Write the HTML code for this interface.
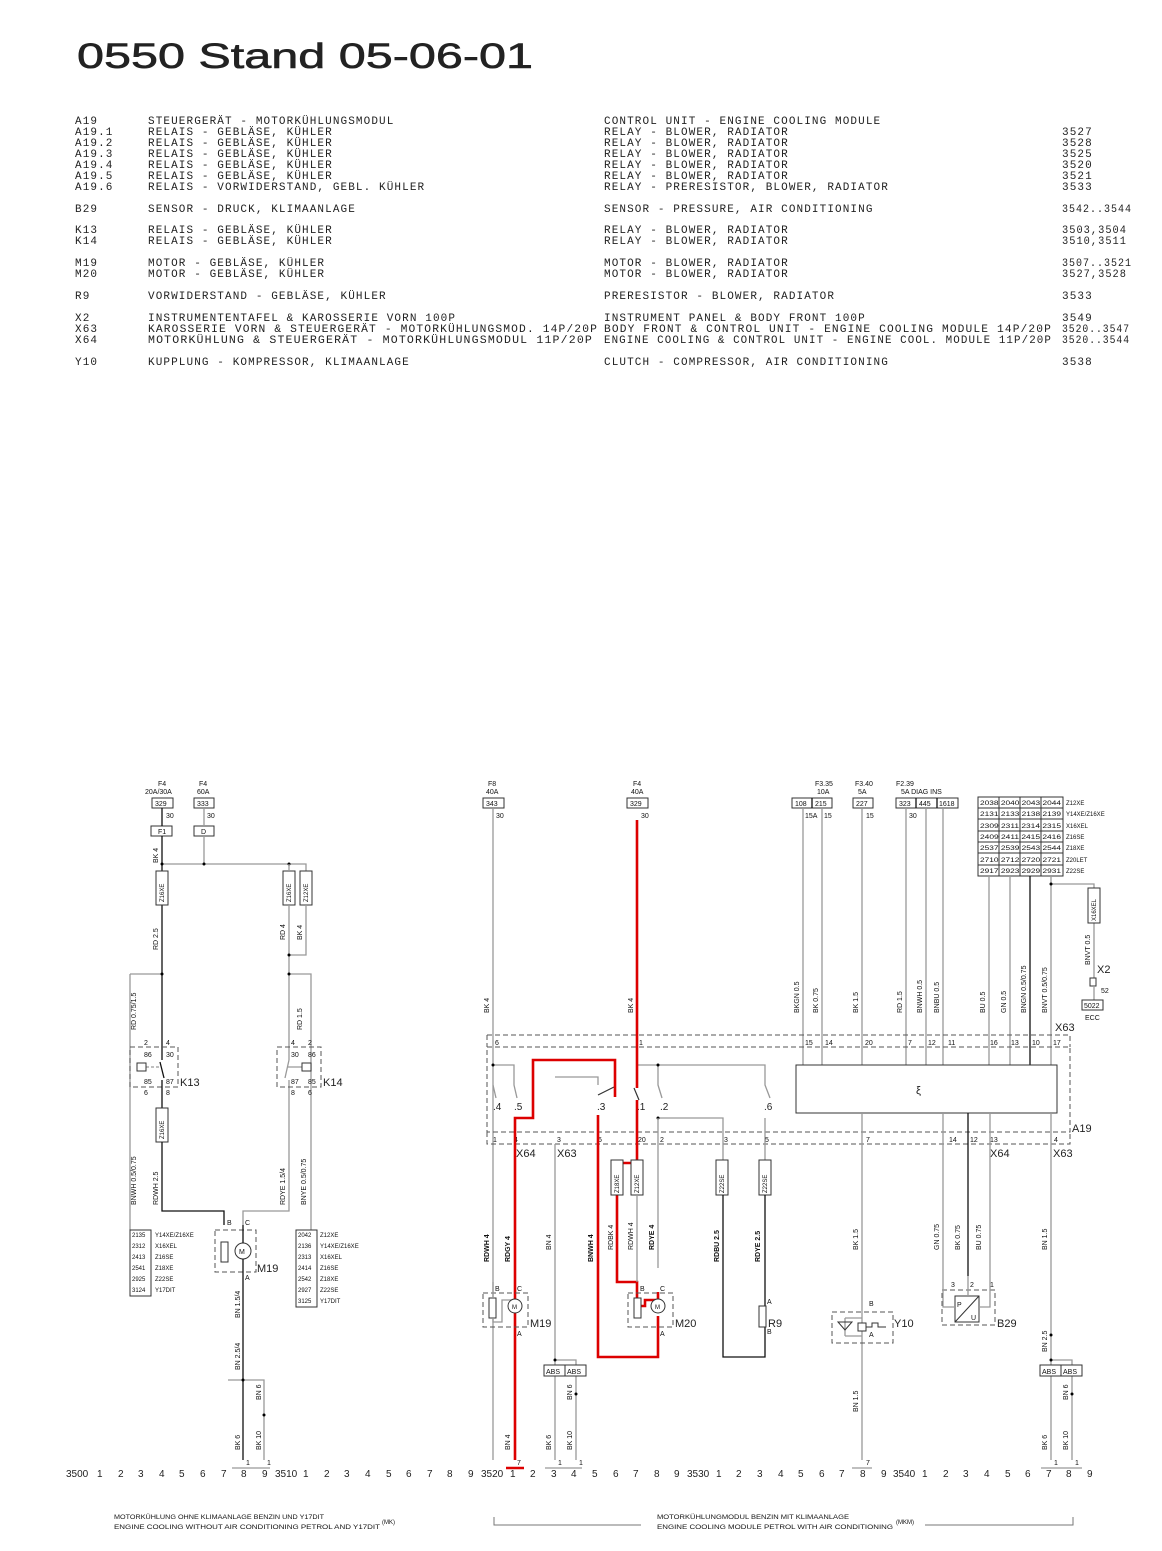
<!DOCTYPE html>
<html><head><meta charset="utf-8"><style>
html,body{margin:0;padding:0;background:#fff}
svg{display:block}
.t{font-family:"Liberation Mono",monospace;font-size:11px;letter-spacing:1.1px;fill:#222}
.s{font-family:"Liberation Sans",sans-serif;font-size:7px;fill:#111}
.m{font-family:"Liberation Sans",sans-serif;font-size:11px;fill:#222}
.n{font-family:"Liberation Sans",sans-serif;font-size:10px;fill:#222}
.f{font-family:"Liberation Sans",sans-serif;font-size:6px;fill:#111}
.g{stroke:#999;stroke-width:1.3;fill:none}
.k{stroke:#111;stroke-width:1.3;fill:none}
.r{stroke:#d00;stroke-width:2.6;fill:none}
.d{stroke:#555;stroke-width:1;fill:none;stroke-dasharray:5 3}
.b{stroke:#333;stroke-width:1;fill:#fff}
</style></head><body>
<svg width="1162" height="1551" viewBox="0 0 1162 1551" xmlns="http://www.w3.org/2000/svg">
<text x="77" y="68" font-family="Liberation Sans,sans-serif" font-size="35" fill="#222" stroke="#222" stroke-width="0.6" textLength="456" lengthAdjust="spacingAndGlyphs">0550 Stand 05-06-01</text>

<g class="t">
<text x="75" y="124">A19</text><text x="148" y="124">STEUERGERÄT - MOTORKÜHLUNGSMODUL</text><text x="604" y="124">CONTROL UNIT - ENGINE COOLING MODULE</text>
<text x="75" y="135">A19.1</text><text x="148" y="135">RELAIS - GEBLÄSE, KÜHLER</text><text x="604" y="135">RELAY - BLOWER, RADIATOR</text><text x="1062" y="135">3527</text>
<text x="75" y="146">A19.2</text><text x="148" y="146">RELAIS - GEBLÄSE, KÜHLER</text><text x="604" y="146">RELAY - BLOWER, RADIATOR</text><text x="1062" y="146">3528</text>
<text x="75" y="157">A19.3</text><text x="148" y="157">RELAIS - GEBLÄSE, KÜHLER</text><text x="604" y="157">RELAY - BLOWER, RADIATOR</text><text x="1062" y="157">3525</text>
<text x="75" y="168">A19.4</text><text x="148" y="168">RELAIS - GEBLÄSE, KÜHLER</text><text x="604" y="168">RELAY - BLOWER, RADIATOR</text><text x="1062" y="168">3520</text>
<text x="75" y="179">A19.5</text><text x="148" y="179">RELAIS - GEBLÄSE, KÜHLER</text><text x="604" y="179">RELAY - BLOWER, RADIATOR</text><text x="1062" y="179">3521</text>
<text x="75" y="190">A19.6</text><text x="148" y="190">RELAIS - VORWIDERSTAND, GEBL. KÜHLER</text><text x="604" y="190">RELAY - PRERESISTOR, BLOWER, RADIATOR</text><text x="1062" y="190">3533</text>
<text x="75" y="212">B29</text><text x="148" y="212">SENSOR - DRUCK, KLIMAANLAGE</text><text x="604" y="212">SENSOR - PRESSURE, AIR CONDITIONING</text><text x="1062" y="212" textLength="70" lengthAdjust="spacingAndGlyphs">3542..3544</text>
<text x="75" y="233">K13</text><text x="148" y="233">RELAIS - GEBLÄSE, KÜHLER</text><text x="604" y="233">RELAY - BLOWER, RADIATOR</text><text x="1062" y="233" textLength="65" lengthAdjust="spacingAndGlyphs">3503,3504</text>
<text x="75" y="244">K14</text><text x="148" y="244">RELAIS - GEBLÄSE, KÜHLER</text><text x="604" y="244">RELAY - BLOWER, RADIATOR</text><text x="1062" y="244" textLength="65" lengthAdjust="spacingAndGlyphs">3510,3511</text>
<text x="75" y="266">M19</text><text x="148" y="266">MOTOR - GEBLÄSE, KÜHLER</text><text x="604" y="266">MOTOR - BLOWER, RADIATOR</text><text x="1062" y="266" textLength="70" lengthAdjust="spacingAndGlyphs">3507..3521</text>
<text x="75" y="277">M20</text><text x="148" y="277">MOTOR - GEBLÄSE, KÜHLER</text><text x="604" y="277">MOTOR - BLOWER, RADIATOR</text><text x="1062" y="277" textLength="65" lengthAdjust="spacingAndGlyphs">3527,3528</text>
<text x="75" y="299">R9</text><text x="148" y="299">VORWIDERSTAND - GEBLÄSE, KÜHLER</text><text x="604" y="299">PRERESISTOR - BLOWER, RADIATOR</text><text x="1062" y="299">3533</text>
<text x="75" y="321">X2</text><text x="148" y="321">INSTRUMENTENTAFEL &amp; KAROSSERIE VORN 100P</text><text x="604" y="321">INSTRUMENT PANEL &amp; BODY FRONT 100P</text><text x="1062" y="321">3549</text>
<text x="75" y="332">X63</text><text x="148" y="332" textLength="450" lengthAdjust="spacingAndGlyphs">KAROSSERIE VORN &amp; STEUERGERÄT - MOTORKÜHLUNGSMOD. 14P/20P</text><text x="604" y="332" textLength="448" lengthAdjust="spacingAndGlyphs">BODY FRONT &amp; CONTROL UNIT - ENGINE COOLING MODULE 14P/20P</text><text x="1062" y="332" textLength="68" lengthAdjust="spacingAndGlyphs">3520..3547</text>
<text x="75" y="343">X64</text><text x="148" y="343" textLength="445" lengthAdjust="spacingAndGlyphs">MOTORKÜHLUNG &amp; STEUERGERÄT - MOTORKÜHLUNGSMODUL 11P/20P</text><text x="604" y="343" textLength="448" lengthAdjust="spacingAndGlyphs">ENGINE COOLING &amp; CONTROL UNIT - ENGINE COOL. MODULE 11P/20P</text><text x="1062" y="343" textLength="68" lengthAdjust="spacingAndGlyphs">3520..3544</text>
<text x="75" y="365">Y10</text><text x="148" y="365">KUPPLUNG - KOMPRESSOR, KLIMAANLAGE</text><text x="604" y="365">CLUTCH - COMPRESSOR, AIR CONDITIONING</text><text x="1062" y="365">3538</text>
</g>

<!-- ================= LEFT SECTION ================= -->
<g class="s">
<text x="158" y="786">F4</text><text x="145" y="794">20A/30A</text>
<text x="199" y="786">F4</text><text x="197" y="794">60A</text>
<text x="166" y="818">30</text><text x="207" y="818">30</text>
</g>
<rect x="152" y="798" width="21" height="10" class="b"/><text x="155" y="806" class="s">329</text>
<rect x="194" y="798" width="20" height="10" class="b"/><text x="197" y="806" class="s">333</text>
<rect x="151" y="826" width="21" height="10" class="b"/><text x="158" y="834" class="s">F1</text>
<rect x="194" y="826" width="20" height="10" class="b"/><text x="201" y="834" class="s">D</text>
<path class="k" d="M162 808V826M162 836V871"/>
<path class="g" d="M204 808V826M204 836V864M162 864H306V871"/>
<path class="k" d="M162 905V1060"/>
<circle cx="162" cy="864" r="1.5"/><circle cx="204" cy="864" r="1.5"/><circle cx="289" cy="864" r="1.5"/>
<rect x="156" y="871" width="12" height="34" class="b"/><text transform="translate(164,902) rotate(-90)" class="f">Z16XE</text>
<rect x="283" y="871" width="12" height="34" class="b"/><text transform="translate(291,902) rotate(-90)" class="f">Z16XE</text>
<rect x="300" y="871" width="12" height="34" class="b"/><text transform="translate(308,902) rotate(-90)" class="f">Z12XE</text>
<path class="g" d="M289 864V871M289 905V1060M289 1080V1211H243V1225M306 905V955H289"/>
<circle cx="289" cy="955" r="1.5"/>
<path class="g" d="M130 974H162M289 974H311V1230M130 974V1230"/>
<circle cx="162" cy="974" r="1.5"/><circle cx="289" cy="974" r="1.5"/>
<!-- K13 -->
<rect x="130" y="1047" width="48" height="40" class="d"/>
<path class="k" d="M160 1062L164 1078M162 1080V1108"/>
<path class="g" d="M141 1067H160" stroke-dasharray="3 2"/>
<rect x="137" y="1063" width="9" height="8" class="b"/>
<g class="s"><text x="144" y="1045">2</text><text x="166" y="1045">4</text><text x="144" y="1057">86</text><text x="166" y="1057">30</text><text x="144" y="1084">85</text><text x="166" y="1084">87</text><text x="144" y="1095">6</text><text x="166" y="1095">8</text></g>
<text x="180" y="1086" class="m">K13</text>
<!-- K14 -->
<rect x="277" y="1047" width="44" height="40" class="d"/>
<path class="g" d="M289 1060L285 1078M287 1067H306"/>
<rect x="302" y="1063" width="9" height="8" class="b"/>
<g class="s"><text x="291" y="1045">4</text><text x="308" y="1045">2</text><text x="291" y="1057">30</text><text x="308" y="1057">86</text><text x="291" y="1084">87</text><text x="308" y="1084">85</text><text x="291" y="1095">8</text><text x="308" y="1095">6</text></g>
<text x="323" y="1086" class="m">K14</text>
<rect x="156" y="1108" width="12" height="34" class="b"/><text transform="translate(164,1139) rotate(-90)" class="f">Z16XE</text>
<path class="k" d="M162 1142V1211H224V1225"/>
<!-- M19 left -->
<rect x="215" y="1230" width="41" height="42" class="d"/>
<rect x="221" y="1242" width="7" height="20" class="b"/>
<circle cx="243" cy="1251" r="8" class="b"/><text x="239" y="1254" class="s">M</text>
<path class="k" d="M243 1225V1243M243 1259V1460"/>
<g class="s"><text x="227" y="1225">B</text><text x="245" y="1225">C</text><text x="245" y="1280">A</text></g>
<text x="257" y="1272" class="m">M19</text>
<g class="f">
<rect x="130" y="1230" width="21" height="66" class="b"/>
<text x="132" y="1237">2135</text><text x="155" y="1237">Y14XE/Z16XE</text>
<text x="132" y="1248">2312</text><text x="155" y="1248">X16XEL</text>
<text x="132" y="1259">2413</text><text x="155" y="1259">Z16SE</text>
<text x="132" y="1270">2541</text><text x="155" y="1270">Z18XE</text>
<text x="132" y="1281">2925</text><text x="155" y="1281">Z22SE</text>
<text x="132" y="1292">3124</text><text x="155" y="1292">Y17DIT</text>
<rect x="296" y="1230" width="21" height="77" class="b"/>
<text x="298" y="1237">2042</text><text x="320" y="1237">Z12XE</text>
<text x="298" y="1248">2136</text><text x="320" y="1248">Y14XE/Z16XE</text>
<text x="298" y="1259">2313</text><text x="320" y="1259">X16XEL</text>
<text x="298" y="1270">2414</text><text x="320" y="1270">Z16SE</text>
<text x="298" y="1281">2542</text><text x="320" y="1281">Z18XE</text>
<text x="298" y="1292">2927</text><text x="320" y="1292">Z22SE</text>
<text x="298" y="1303">3125</text><text x="320" y="1303">Y17DIT</text>
</g>
<path class="g" d="M228 1380H264V1460"/><circle cx="243" cy="1380" r="1.5"/><circle cx="264" cy="1415" r="1.5"/>
<path class="g" d="M232 1468H270"/>
<g class="s">
<text transform="translate(158,863) rotate(-90)">BK 4</text>
<text transform="translate(158,950) rotate(-90)">RD 2.5</text>
<text transform="translate(285,940) rotate(-90)">RD 4</text>
<text transform="translate(302,940) rotate(-90)">BK 4</text>
<text transform="translate(136,1030) rotate(-90)">RD 0.75/1.5</text>
<text transform="translate(302,1030) rotate(-90)">RD 1.5</text>
<text transform="translate(136,1205) rotate(-90)">BNWH 0.5/0.75</text>
<text transform="translate(158,1205) rotate(-90)">RDWH 2.5</text>
<text transform="translate(285,1205) rotate(-90)">RDYE 1.5/4</text>
<text transform="translate(306,1205) rotate(-90)">BNYE 0.5/0.75</text>
<text transform="translate(240,1318) rotate(-90)">BN 1.5/4</text>
<text transform="translate(240,1370) rotate(-90)">BN 2.5/4</text>
<text transform="translate(261,1400) rotate(-90)">BN 6</text>
<text transform="translate(240,1450) rotate(-90)">BK 6</text>
<text transform="translate(261,1450) rotate(-90)">BK 10</text>
<text x="246" y="1465">1</text><text x="267" y="1465">1</text>
</g>

<!-- ================= RIGHT SECTION ================= -->
<g class="s">
<text x="488" y="786">F8</text><text x="486" y="794">40A</text>
<text x="633" y="786">F4</text><text x="631" y="794">40A</text>
<text x="496" y="818">30</text><text x="641" y="818">30</text>
<text x="815" y="786">F3.35</text><text x="817" y="794">10A</text>
<text x="855" y="786">F3.40</text><text x="858" y="794">5A</text>
<text x="896" y="786">F2.39</text><text x="901" y="794">5A  DIAG  INS</text>
<text x="805" y="818">15A</text><text x="824" y="818">15</text><text x="866" y="818">15</text><text x="909" y="818">30</text>
</g>
<rect x="483" y="798" width="21" height="10" class="b"/><text x="486" y="806" class="s">343</text>
<rect x="627" y="798" width="21" height="10" class="b"/><text x="630" y="806" class="s">329</text>
<rect x="792" y="798" width="40" height="10" class="b"/><path class="k" d="M812 798V808" stroke-width="1"/><text x="795" y="806" class="s">108</text><text x="815" y="806" class="s">215</text>
<rect x="853" y="798" width="20" height="10" class="b"/><text x="856" y="806" class="s">227</text>
<rect x="896" y="798" width="62" height="10" class="b"/><path class="k" d="M916 798V808M937 798V808" stroke-width="1"/><text x="899" y="806" class="s">323</text><text x="919" y="806" class="s">445</text><text x="939" y="806" class="s">1618</text>
<!-- grid -->
<g>
<rect x="978" y="797" width="85" height="79" class="b"/>
<path stroke="#333" stroke-width="1" d="M999 797V876M1020 797V876M1041 797V876M978 808H1063M978 819H1063M978 831H1063M978 842H1063M978 853H1063M978 865H1063"/>
<g class="f">
<text x="980" y="805" textLength="81" lengthAdjust="spacingAndGlyphs">2038 2040 2043 2044</text><text x="1066" y="805">Z12XE</text>
<text x="980" y="816" textLength="81" lengthAdjust="spacingAndGlyphs">2131 2133 2138 2139</text><text x="1066" y="816">Y14XE/Z16XE</text>
<text x="980" y="828" textLength="81" lengthAdjust="spacingAndGlyphs">2309 2311 2314 2315</text><text x="1066" y="828">X16XEL</text>
<text x="980" y="839" textLength="81" lengthAdjust="spacingAndGlyphs">2409 2411 2415 2416</text><text x="1066" y="839">Z16SE</text>
<text x="980" y="850" textLength="81" lengthAdjust="spacingAndGlyphs">2537 2539 2543 2544</text><text x="1066" y="850">Z18XE</text>
<text x="980" y="862" textLength="81" lengthAdjust="spacingAndGlyphs">2710 2712 2720 2721</text><text x="1066" y="862">Z20LET</text>
<text x="980" y="873" textLength="81" lengthAdjust="spacingAndGlyphs">2917 2923 2929 2931</text><text x="1066" y="873">Z22SE</text>
</g></g>
<!-- verticals top -->
<path class="g" d="M493 808V1460M803 808V1065M822 808V1065M862 808V1065M906 808V1065M926 808V1065M943 808V1065M989 876V1065M1010 876V1065M1051 876V1065"/>
<path class="k" d="M1030 876V1065"/>
<path class="g" d="M1051 884H1094V888M1094 923V978"/><circle cx="1051" cy="884" r="1.5"/>
<rect x="1088" y="888" width="12" height="35" class="b"/><text transform="translate(1096,921) rotate(-90)" class="f">X16XEL</text>
<rect x="1090" y="978" width="6" height="8" class="b"/><path class="g" d="M1094 986V1000"/>
<rect x="1082" y="1000" width="21" height="10" class="b"/><text x="1084" y="1008" class="s">5022</text>
<text x="1097" y="973" class="m">X2</text><text x="1101" y="993" class="s">52</text><text x="1085" y="1020" class="s">ECC</text>
<!-- connectors / A19 -->
<path class="d" d="M487 1035H1070V1047M487 1035V1047"/>
<rect x="487" y="1047" width="583" height="85" class="d"/>
<path class="d" d="M487 1132V1144H1070V1132"/>
<text x="1055" y="1031" class="m">X63</text>
<text x="1072" y="1132" class="m">A19</text>
<g class="s">
<text x="495" y="1045">6</text><text x="639" y="1045">1</text><text x="805" y="1045">15</text><text x="825" y="1045">14</text><text x="865" y="1045">20</text><text x="908" y="1045">7</text><text x="928" y="1045">12</text><text x="948" y="1045">11</text><text x="990" y="1045">16</text><text x="1011" y="1045">13</text><text x="1032" y="1045">10</text><text x="1053" y="1045">17</text>
<text x="493" y="1142">1</text><text x="514" y="1142">4</text><text x="557" y="1142">3</text><text x="598" y="1142">6</text><text x="638" y="1142">20</text><text x="660" y="1142">2</text><text x="724" y="1142">3</text><text x="765" y="1142">5</text><text x="866" y="1142">7</text><text x="949" y="1142">14</text><text x="970" y="1142">12</text><text x="990" y="1142">13</text><text x="1054" y="1142">4</text>
</g>
<text x="516" y="1157" class="m">X64</text><text x="557" y="1157" class="m">X63</text><text x="990" y="1157" class="m">X64</text><text x="1053" y="1157" class="m">X63</text>
<!-- control box -->
<rect x="796" y="1065" width="261" height="48" class="b" stroke-width="1.2"/>
<text x="916" y="1094" class="m">ξ</text>
<path class="g" d="M862 1113V1460M943 1113V1276M990 1113V1276M1051 1113V1460"/>
<path class="k" d="M968 1113V1276"/>
<!-- switches -->
<path class="g" d="M493 1065H514V1085L517 1098M493 1085L496 1098M637 1065H765V1085L770 1098M658 1065V1085L662 1098M658 1118H723V1160M765 1118V1160M555 1144V1380M555 1077H598V1085"/>
<circle cx="493" cy="1065" r="1.5"/><circle cx="658" cy="1065" r="1.5"/><circle cx="658" cy="1118" r="1.5"/>
<path class="g" d="M658 1118V1268"/>
<g class="n"><text x="493" y="1110">.4</text><text x="514" y="1110">.5</text><text x="597" y="1110">.3</text><text x="637" y="1110">.1</text><text x="660" y="1110">.2</text><text x="764" y="1110">.6</text></g>
<!-- red path -->
<path class="r" d="M637 820V1088M637 1100V1163H617V1160"/>
<path stroke="#333" stroke-width="1.2" d="M634 1088L639 1100M598 1095L614 1087"/>
<path class="r" d="M515 1460V1118H533V1060H615V1097"/>
<path class="r" d="M598 1115V1357H658V1316"/>
<path class="r" d="M617 1195V1282H637V1306H645V1300H658V1292"/>
<path class="r" d="M506 1468H524"/>
<rect x="611" y="1160" width="12" height="35" class="b"/><text transform="translate(619,1193) rotate(-90)" class="f">Z18XE</text>
<rect x="631" y="1160" width="12" height="35" class="b"/><text transform="translate(639,1193) rotate(-90)" class="f">Z12XE</text>
<path class="g" d="M637 1195V1282"/>
<rect x="716" y="1160" width="12" height="35" class="b"/><text transform="translate(724,1193) rotate(-90)" class="f">Z22SE</text>
<rect x="759" y="1160" width="12" height="35" class="b"/><text transform="translate(767,1193) rotate(-90)" class="f">Z22SE</text>
<path class="k" d="M723 1195V1357H765V1327M765 1195V1306"/>
<!-- M19 right -->
<rect x="483" y="1293" width="45" height="34" class="d"/>
<rect x="489" y="1298" width="7" height="20" class="b"/>
<path class="g" d="M493 1282V1298M493 1318V1322H502V1300H515"/>
<circle cx="515" cy="1306" r="7" class="b"/><text x="512" y="1309" class="f">M</text>
<g class="s"><text x="495" y="1291">B</text><text x="517" y="1291">C</text><text x="517" y="1336">A</text></g>
<text x="530" y="1327" class="m">M19</text>
<!-- M20 -->
<rect x="628" y="1293" width="45" height="34" class="d"/>
<rect x="634" y="1298" width="7" height="20" class="b"/>
<circle cx="658" cy="1306" r="7" class="b"/><text x="655" y="1309" class="f">M</text>
<g class="s"><text x="640" y="1291">B</text><text x="660" y="1291">C</text><text x="660" y="1336">A</text></g>
<text x="675" y="1327" class="m">M20</text>
<!-- R9 -->
<rect x="759" y="1306" width="7" height="21" class="b"/>
<g class="s"><text x="767" y="1304">A</text><text x="767" y="1334">B</text></g>
<text x="768" y="1327" class="m">R9</text>
<!-- Y10 -->
<rect x="832" y="1312" width="61" height="31" class="d"/>
<path class="g" d="M845 1318H862M845 1336H862M845 1318V1336"/><path d="M838 1322H852L845 1330Z" fill="none" stroke="#333"/>
<rect x="858" y="1323" width="8" height="8" class="b"/><path stroke="#333" fill="none" d="M866 1327H872V1323H878V1327H886"/>
<g class="s"><text x="869" y="1306">B</text><text x="869" y="1337">A</text></g>
<text x="894" y="1327" class="m">Y10</text>
<!-- B29 -->
<rect x="942" y="1290" width="53" height="35" class="d"/>
<rect x="955" y="1296" width="24" height="26" class="b"/><path stroke="#333" d="M955 1322L979 1296"/>
<text x="957" y="1307" class="s">P</text><text x="971" y="1320" class="s">U</text>
<path class="g" d="M943 1276V1307H955M990 1276V1307H979M968 1276V1296"/>
<g class="s"><text x="951" y="1287">3</text><text x="970" y="1287">2</text><text x="990" y="1287">1</text></g>
<text x="997" y="1327" class="m">B29</text>
<!-- ABS boxes -->
<path class="g" d="M555 1360H576V1460M555 1380V1460"/>
<rect x="544" y="1365" width="42" height="11" class="b"/><path stroke="#333" d="M565 1365V1376"/><text x="546" y="1374" class="s">ABS</text><text x="567" y="1374" class="s">ABS</text>
<path class="g" d="M1051 1360H1072V1460"/><circle cx="1051" cy="1335" r="1.5"/>
<rect x="1040" y="1365" width="42" height="11" class="b"/><path stroke="#333" d="M1061 1365V1376"/><text x="1042" y="1374" class="s">ABS</text><text x="1063" y="1374" class="s">ABS</text>
<circle cx="555" cy="1360" r="1.5"/><circle cx="576" cy="1394" r="1.5"/><circle cx="1051" cy="1360" r="1.5"/><circle cx="1072" cy="1394" r="1.5"/>
<path class="g" d="M545 1468H582M852 1468H872M1041 1468H1082"/>
<g class="s">
<text transform="translate(489,1013) rotate(-90)">BK 4</text>
<text transform="translate(633,1013) rotate(-90)">BK 4</text>
<text transform="translate(799,1013) rotate(-90)">BKGN 0.5</text>
<text transform="translate(818,1013) rotate(-90)">BK 0.75</text>
<text transform="translate(858,1013) rotate(-90)">BK 1.5</text>
<text transform="translate(902,1013) rotate(-90)">RD 1.5</text>
<text transform="translate(922,1013) rotate(-90)">BNWH 0.5</text>
<text transform="translate(939,1013) rotate(-90)">BNBU 0.5</text>
<text transform="translate(985,1013) rotate(-90)">BU 0.5</text>
<text transform="translate(1006,1013) rotate(-90)">GN 0.5</text>
<text transform="translate(1026,1013) rotate(-90)">BNGN 0.5/0.75</text>
<text transform="translate(1047,1013) rotate(-90)">BNVT 0.5/0.75</text>
<text transform="translate(1090,965) rotate(-90)">BNVT 0.5</text>
<text transform="translate(489,1262) rotate(-90)" font-weight="bold">RDWH 4</text>
<text transform="translate(510,1262) rotate(-90)" font-weight="bold">RDGY 4</text>
<text transform="translate(551,1250) rotate(-90)">BN 4</text>
<text transform="translate(593,1262) rotate(-90)" font-weight="bold">BNWH 4</text>
<text transform="translate(613,1250) rotate(-90)">RDBK 4</text>
<text transform="translate(633,1250) rotate(-90)">RDWH 4</text>
<text transform="translate(654,1250) rotate(-90)" font-weight="bold">RDYE 4</text>
<text transform="translate(719,1262) rotate(-90)" font-weight="bold">RDBU 2.5</text>
<text transform="translate(760,1262) rotate(-90)" font-weight="bold">RDYE 2.5</text>
<text transform="translate(858,1250) rotate(-90)">BK 1.5</text>
<text transform="translate(939,1250) rotate(-90)">GN 0.75</text>
<text transform="translate(960,1250) rotate(-90)">BK 0.75</text>
<text transform="translate(981,1250) rotate(-90)">BU 0.75</text>
<text transform="translate(1047,1250) rotate(-90)">BN 1.5</text>
<text transform="translate(1047,1352) rotate(-90)">BN 2.5</text>
<text transform="translate(858,1412) rotate(-90)">BN 1.5</text>
<text transform="translate(510,1450) rotate(-90)">BN 4</text>
<text transform="translate(551,1450) rotate(-90)">BK 6</text>
<text transform="translate(572,1450) rotate(-90)">BK 10</text>
<text transform="translate(572,1400) rotate(-90)">BN 6</text>
<text transform="translate(1047,1450) rotate(-90)">BK 6</text>
<text transform="translate(1068,1450) rotate(-90)">BK 10</text>
<text transform="translate(1068,1400) rotate(-90)">BN 6</text>
<text x="517" y="1465">7</text><text x="558" y="1465">1</text><text x="579" y="1465">1</text><text x="866" y="1465">7</text><text x="1054" y="1465">1</text><text x="1075" y="1465">1</text>
</g>

<!-- bottom scale -->
<g class="n" font-size="10.5">
<text x="66" y="1477">3500</text><text x="97" y="1477">1</text><text x="118" y="1477">2</text><text x="138" y="1477">3</text><text x="159" y="1477">4</text><text x="179" y="1477">5</text><text x="200" y="1477">6</text><text x="221" y="1477">7</text><text x="241" y="1477">8</text><text x="262" y="1477">9</text>
<text x="275" y="1477">3510</text><text x="303" y="1477">1</text><text x="324" y="1477">2</text><text x="344" y="1477">3</text><text x="365" y="1477">4</text><text x="386" y="1477">5</text><text x="406" y="1477">6</text><text x="427" y="1477">7</text><text x="447" y="1477">8</text><text x="468" y="1477">9</text>
<text x="481" y="1477">3520</text><text x="510" y="1477">1</text><text x="530" y="1477">2</text><text x="551" y="1477">3</text><text x="571" y="1477">4</text><text x="592" y="1477">5</text><text x="613" y="1477">6</text><text x="633" y="1477">7</text><text x="654" y="1477">8</text><text x="674" y="1477">9</text>
<text x="687" y="1477">3530</text><text x="716" y="1477">1</text><text x="736" y="1477">2</text><text x="757" y="1477">3</text><text x="778" y="1477">4</text><text x="798" y="1477">5</text><text x="819" y="1477">6</text><text x="839" y="1477">7</text><text x="860" y="1477">8</text><text x="881" y="1477">9</text>
<text x="893" y="1477">3540</text><text x="922" y="1477">1</text><text x="943" y="1477">2</text><text x="963" y="1477">3</text><text x="984" y="1477">4</text><text x="1005" y="1477">5</text><text x="1025" y="1477">6</text><text x="1046" y="1477">7</text><text x="1066" y="1477">8</text><text x="1087" y="1477">9</text>
</g>
<g class="f">
<text x="114" y="1519" textLength="210" lengthAdjust="spacingAndGlyphs">MOTORKÜHLUNG OHNE KLIMAANLAGE BENZIN UND Y17DIT</text>
<text x="114" y="1529" textLength="266" lengthAdjust="spacingAndGlyphs">ENGINE COOLING WITHOUT AIR CONDITIONING PETROL AND Y17DIT</text>
<text x="382" y="1524">(MK)</text>
<text x="657" y="1519" textLength="192" lengthAdjust="spacingAndGlyphs">MOTORKÜHLUNGMODUL BENZIN MIT KLIMAANLAGE</text>
<text x="657" y="1529" textLength="236" lengthAdjust="spacingAndGlyphs">ENGINE COOLING MODULE PETROL WITH AIR CONDITIONING</text>
<text x="896" y="1524">(MKM)</text>
</g>
<path stroke="#777" fill="none" d="M494 1517V1525H641M925 1525H1073V1517"/>
</svg>
</body></html>
